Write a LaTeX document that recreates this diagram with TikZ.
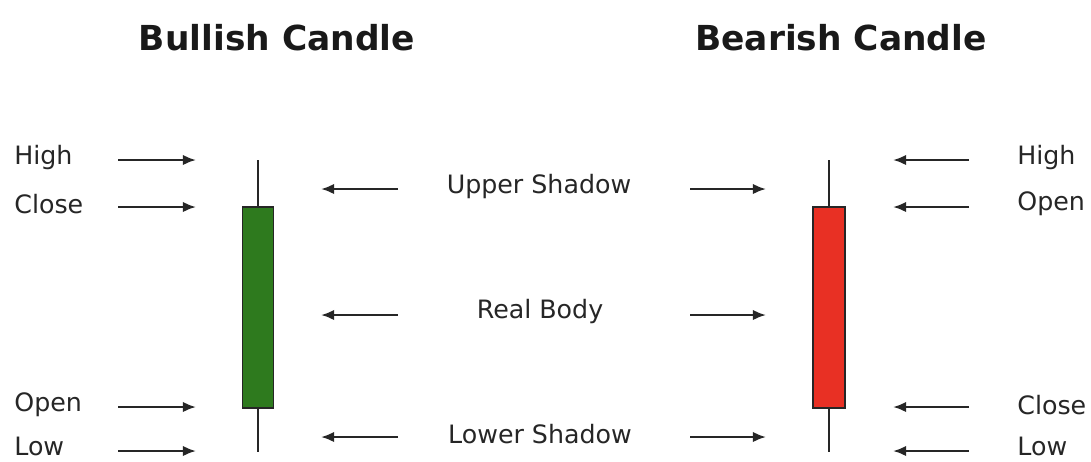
\documentclass[tikz,border=0pt]{standalone}
\usepackage{fontspec}
\setmainfont{DejaVu Sans}
\usepackage{tikz}
\usetikzlibrary{arrows.meta}
\definecolor{bullgreen}{RGB}{46,122,30}
\definecolor{bearred}{RGB}{232,48,36}
\tikzset{
  title/.style={font=\fontsize{19.6}{22}\selectfont\bfseries, text=black!90},
  label/.style={font=\fontsize{14.4}{16}\selectfont, text=black!85},
  pointer/.style={line width=1.3pt, black!85, -{Latex[length=7.5pt,width=6pt]}},
  wick/.style={line width=1.4pt, black!85},
  body/.style={draw=black!85, line width=1pt}
}
\begin{document}
\begin{tikzpicture}[x=0.02cm,y=-0.02cm]
  \useasboundingbox (0,0) rectangle (1091,461);

  % titles
  \node[title] (bulltitle) at (277,38) {Bullish Candle};
  \node[title] (beartitle) at (841,38) {Bearish Candle};

  % bullish candle
  \coordinate (bhigh) at (258,160);
  \coordinate (blow) at (258,452);
  \draw[wick] (bhigh) -- (blow);
  \node[body, fill=bullgreen, minimum width=31*0.02cm, minimum height=201*0.02cm,
        inner sep=0pt] (bbody) at (258,307.5) {};

  % bearish candle
  \coordinate (rhigh) at (829,160);
  \coordinate (rlow) at (829,452);
  \draw[wick] (rhigh) -- (rlow);
  \node[body, fill=bearred, minimum width=32*0.02cm, minimum height=201*0.02cm,
        inner sep=0pt] (rbody) at (829,307.5) {};

  % left side labels
  \node[label, anchor=west, inner sep=0pt] (lhigh)  at (14,158) {High};
  \node[label, anchor=west, inner sep=0pt] (lclose) at (14,204) {Close};
  \node[label, anchor=west, inner sep=0pt] (lopen)  at (14,405) {Open};
  \node[label, anchor=west, inner sep=0pt] (llow)   at (14,446) {Low};

  % right side labels
  \node[label, anchor=west, inner sep=0pt] (rhighl)  at (1017,158) {High};
  \node[label, anchor=west, inner sep=0pt] (ropenl)  at (1017,204) {Open};
  \node[label, anchor=west, inner sep=0pt] (rclosel) at (1017,405) {Close};
  \node[label, anchor=west, inner sep=0pt] (rlowl)   at (1017,446) {Low};

  % middle labels
  \node[label] (upper) at (539,187) {Upper Shadow};
  \node[label] (real)  at (540,312) {Real Body};
  \node[label] (lower) at (540,434) {Lower Shadow};

  % left arrows
  \foreach \n/\y in {lhigh/160,lclose/207,lopen/407,llow/451}{
    \coordinate (\n-a) at (118,\y);
    \coordinate (\n-b) at (196,\y);
    \draw[pointer] (\n-a) -- (\n-b);
  }

  % right arrows
  \foreach \n/\y in {rhighl/160,ropenl/207,rclosel/407,rlowl/451}{
    \coordinate (\n-a) at (969,\y);
    \coordinate (\n-b) at (893,\y);
    \draw[pointer] (\n-a) -- (\n-b);
  }

  % middle arrows
  \foreach \n/\y in {upper/189,real/315,lower/437}{
    \coordinate (\n-la) at (398,\y);
    \coordinate (\n-lb) at (321,\y);
    \coordinate (\n-ra) at (690,\y);
    \coordinate (\n-rb) at (766,\y);
    \draw[pointer] (\n-la) -- (\n-lb);
    \draw[pointer] (\n-ra) -- (\n-rb);
  }
\end{tikzpicture}
\end{document}
